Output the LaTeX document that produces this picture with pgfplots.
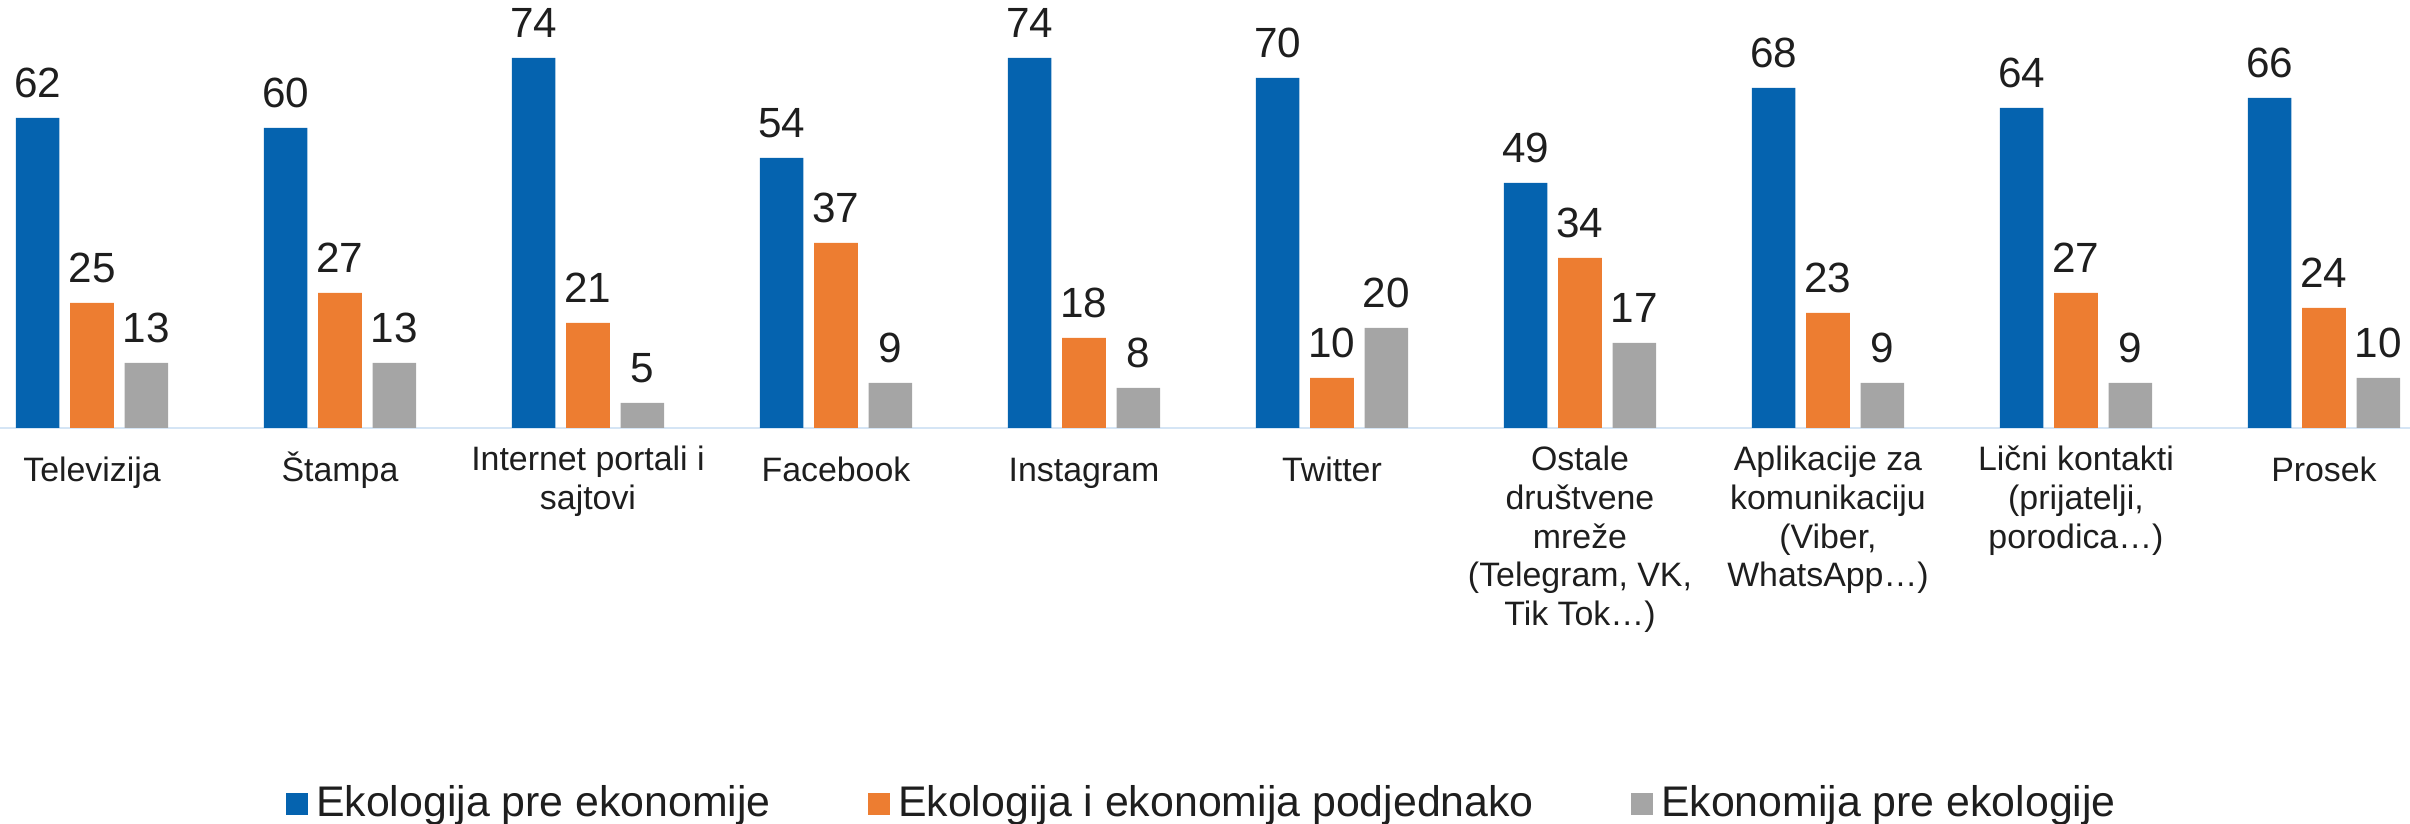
\documentclass[border=0pt]{standalone}
\usepackage{fontspec}
\setmainfont{Liberation Sans}
\usepackage{pgfplots}
\pgfplotsset{compat=1.18}
\definecolor{cBlue}{HTML}{0563AF}
\definecolor{cOrange}{HTML}{ED7D31}
\definecolor{cGray}{HTML}{A5A5A5}
\definecolor{cAxis}{HTML}{D5E5F5}
\definecolor{cText}{HTML}{1E1E1E}

\begin{document}
\begin{tikzpicture}
\begin{axis}[
  scale only axis, width=602.5bp, height=107bp,
  xmin=-0.371, xmax=9.347, ymin=0, ymax=85.6,
  ybar=2.7bp, bar width=10.9bp,
  axis x line=bottom, axis y line=none,
  x axis line style={draw=cAxis, line width=0.5bp, -},
  xtick={0,...,9}, major tick length=0pt, ytick=\empty,
  xticklabels={{Televizija},{Štampa},{Internet portali i\\sajtovi},{Facebook},{Instagram},{Twitter},
    {Ostale\\društvene\\mreže\\(Telegram, VK,\\Tik Tok…)},{Aplikacije za\\komunikaciju\\(Viber,\\WhatsApp…)},
    {Lični kontakti\\(prijatelji,\\porodica…)},{Prosek}},
  xticklabel style={align=center, anchor=north, inner sep=0pt, yshift=-4.25bp,
    font=\fontsize{8.5}{9.75}\selectfont, text=cText, execute at begin node=\rule{0pt}{9bp}},
  nodes near coords,
  every node near coord/.append style={font=\fontsize{10.6}{12}\selectfont, text=cText, yshift=1.5bp},
  /pgf/number format/assume math mode=true,
  legend columns=-1,
  legend style={at={(axis description cs:0.5,-0.8776)}, anchor=center, draw=none, fill=none,
    font=\fontsize{10.75}{12}\selectfont, text=cText, inner sep=0pt,
    /tikz/every even column/.append style={column sep=22.3bp}},
  legend image code/.code={\fill[#1] (0bp,-2.75bp) rectangle (5.5bp,2.75bp);},
  clip=false,
]
\addplot[fill=cBlue, draw=none] coordinates {(0,62) (1,60) (2,74) (3,54) (4,74) (5,70) (6,49) (7,68) (8,64) (9,66)};
\addplot[fill=cOrange, draw=none] coordinates {(0,25) (1,27) (2,21) (3,37) (4,18) (5,10) (6,34) (7,23) (8,27) (9,24)};
\addplot[fill=cGray, draw=none] coordinates {(0,13) (1,13) (2,5) (3,9) (4,8) (5,20) (6,17) (7,9) (8,9) (9,10)};
\legend{Ekologija pre ekonomije, Ekologija i ekonomija podjednako, Ekonomija pre ekologije}
\end{axis}
\pgfresetboundingbox
\path[use as bounding box] (current axis.north west) rectangle ([yshift=-99bp]current axis.south east);
\end{tikzpicture}
\end{document}
